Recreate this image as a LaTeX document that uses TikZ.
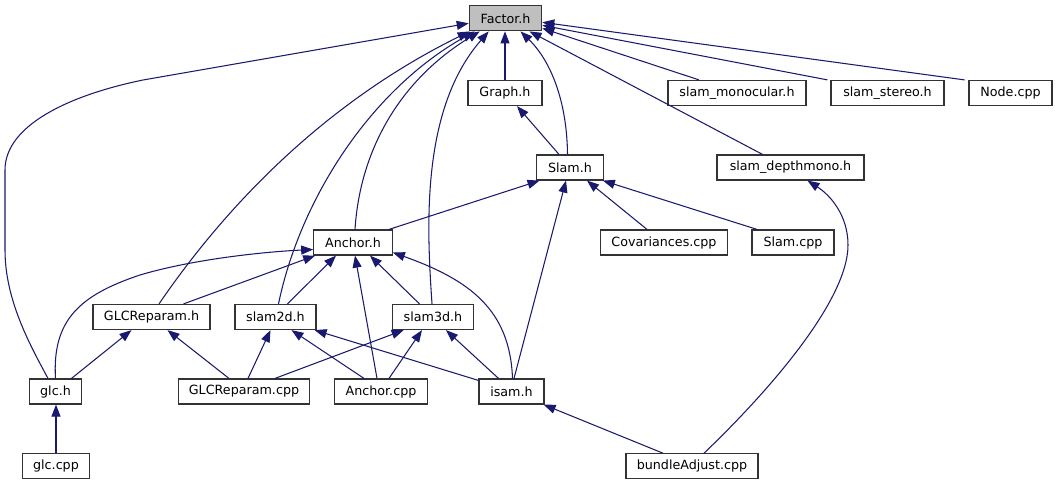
\documentclass[tikz,border=0pt]{standalone}
\usepackage{fontspec}
\setmainfont{DejaVu Sans}
\usetikzlibrary{arrows.meta}
\definecolor{edgeblue}{HTML}{191970}
\definecolor{factorfill}{HTML}{BFBFBF}
\definecolor{boxline}{HTML}{333333}
\tikzset{
  fnode/.style={draw=boxline, line width=1.2pt, fill=white, inner sep=0pt,
    minimum height=25pt, font=\fontsize{12.7}{15}\selectfont},
  e/.style={draw=edgeblue, line width=1.05pt, -{Triangle[length=12pt,width=9pt]}}
}
\begin{document}
\begin{tikzpicture}[x=1pt,y=-1pt]
\fill[white] (0,0) rectangle (1057,485);
\useasboundingbox (0,0) rectangle (1057,485);
% nodes
\node[fnode, fill=factorfill, minimum width=72.4pt] (factor) at (505.5,18.3) {Factor.h};
\node[fnode, minimum width=74pt] (graph) at (505,93) {Graph.h};
\node[fnode, minimum width=138pt] (slammono) at (737,93) {slam\_monocular.h};
\node[fnode, minimum width=113pt] (slamstereo) at (887.5,93) {slam\_stereo.h};
\node[fnode, minimum width=83pt] (nodecpp) at (1010.5,93) {Node.cpp};
\node[fnode, minimum width=66.5pt] (slamh) at (570,167.5) {Slam.h};
\node[fnode, minimum width=147pt] (depthmono) at (790.5,167.5) {slam\_depthmono.h};
\node[fnode, minimum width=78.5pt] (anchorh) at (353,242.5) {Anchor.h};
\node[fnode, minimum width=126.5pt] (cov) at (664,242.5) {Covariances.cpp};
\node[fnode, minimum width=82pt] (slamcpp) at (793,242.5) {Slam.cpp};
\node[fnode, minimum width=117pt] (glcreph) at (151.5,317) {GLCReparam.h};
\node[fnode, minimum width=81pt] (slam2d) at (275.5,317) {slam2d.h};
\node[fnode, minimum width=81.5pt] (slam3d) at (433,317) {slam3d.h};
\node[fnode, minimum width=52pt] (glch) at (55.5,391.5) {glc.h};
\node[fnode, minimum width=131.6pt] (glcrepcpp) at (244,391.5) {GLCReparam.cpp};
\node[fnode, minimum width=93.5pt] (anchorcpp) at (381,391.5) {Anchor.cpp};
\node[fnode, minimum width=65pt] (isam) at (511.5,391.5) {isam.h};
\node[fnode, minimum width=67pt] (glccpp) at (56,466.3) {glc.cpp};
\node[fnode, minimum width=132pt] (bundle) at (692,466.3) {bundleAdjust.cpp};
% edges into Factor.h
\draw[e] ([xshift=-7.5pt]glch.north) .. controls (30,345) and (5,300) .. (5,250) -- (5,170) .. controls (5,125) and (70,95) .. (143,80) -- ([yshift=-5pt]factor.west);
\draw[e] ([xshift=7.5pt]glcreph.north) .. controls (230,200) and (330,100) .. ([xshift=1pt]factor.south west);
\draw[e] ([xshift=3pt]slam2d.north) .. controls (300,200) and (370,90) .. ([xshift=6pt]factor.south west);
\draw[e] ([xshift=2pt]anchorh.north) .. controls (360,150) and (400,80) .. ([xshift=11pt]factor.south west);
\draw[e] ([xshift=-1pt]slam3d.north) .. controls (427,230) and (420,110) .. ([xshift=20pt]factor.south west);
\draw[e] (graph.north) -- (graph.north |- factor.south);
\draw[e] ([xshift=-2.5pt]slamh.north) .. controls (567,100) and (550,60) .. ([xshift=15pt]factor.south);
\draw[e] ([xshift=-28pt]depthmono.north) -- ([xshift=24pt]factor.south);
\draw[e] ([xshift=-38pt]slammono.north) -- ([yshift=-10pt]factor.east);
\draw[e] ([xshift=-60pt]slamstereo.north) -- ([yshift=-7pt]factor.east);
\draw[e] ([xshift=-46pt]nodecpp.north) -- ([yshift=-4pt]factor.east);
% Slam.h and Graph.h
\draw[e] ([xshift=-11pt]slamh.north) -- ([xshift=12pt]graph.south);
\draw[e] ([xshift=36pt]anchorh.north) -- ([xshift=3.4pt]slamh.south west);
\draw[e] ([xshift=-17pt]cov.north) -- ([xshift=17pt]slamh.south);
\draw[e] ([xshift=-36pt]slamcpp.north) -- ([xshift=-1pt]slamh.south east);
\draw[e] ([xshift=2.5pt]isam.north) -- ([xshift=-4pt]slamh.south);
% bundleAdjust
\draw[e] ([xshift=12pt]bundle.north) .. controls (770,390) and (848,300) .. (848,245) .. controls (848,215) and (830,195) .. ([xshift=17pt]depthmono.south);
\draw[e] ([xshift=-29pt]bundle.north) -- ([xshift=-1pt]isam.south east);
% Anchor.h
\draw[e] (glch.north) .. controls (52,320) and (80,295) .. (140,275) .. controls (190,260) and (260,252) .. ([yshift=-7pt]anchorh.west);
\draw[e] ([xshift=32pt]glcreph.north) -- ([xshift=2pt]anchorh.south west);
\draw[e] ([xshift=12pt]slam2d.north) -- ([xshift=-17pt]anchorh.south);
\draw[e] ([xshift=-4pt]anchorcpp.north) -- ([xshift=2pt]anchorh.south);
\draw[e] ([xshift=-13.5pt]slam3d.north) -- ([xshift=17pt]anchorh.south);
\draw[e] ([xshift=1pt]isam.north) .. controls (510,310) and (470,280) .. ([yshift=-10pt]anchorh.east);
% third row
\draw[e] ([xshift=16pt]glch.north) -- ([xshift=-20pt]glcreph.south);
\draw[e] ([xshift=-15pt]glcrepcpp.north) -- ([xshift=16pt]glcreph.south);
\draw[e] ([xshift=4pt]glcrepcpp.north) -- ([xshift=-5pt]slam2d.south);
\draw[e] ([xshift=-17pt]anchorcpp.north) -- ([xshift=16pt]slam2d.south);
\draw[e] ([yshift=-2pt]isam.north west) -- ([xshift=-2pt]slam2d.south east);
\draw[e] ([xshift=31pt]glcrepcpp.north) -- ([xshift=12pt]slam3d.south west);
\draw[e] ([xshift=8pt]anchorcpp.north) -- ([xshift=-11pt]slam3d.south);
\draw[e] ([xshift=-13pt]isam.north) -- ([xshift=13pt]slam3d.south);
\draw[e] (glccpp.north) -- (glccpp.north |- glch.south);
\end{tikzpicture}
\end{document}
